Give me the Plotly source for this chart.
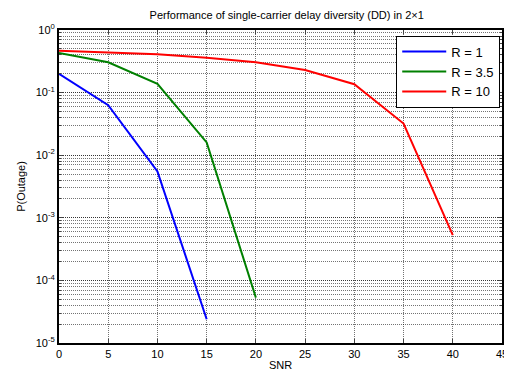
import plotly.graph_objects as go

snr_r1 = [0, 5, 10, 15]
p_r1 = [0.2, 0.063, 0.0055, 2.4e-5]

snr_r35 = [0, 5, 10, 15, 20]
p_r35 = [0.43, 0.305, 0.138, 0.016, 5.3e-5]

snr_r10 = [0, 5, 10, 15, 20, 25, 30, 35, 40]
p_r10 = [0.467, 0.435, 0.41, 0.36, 0.305, 0.23, 0.136, 0.032, 5.3e-4]

series_names = ["R = 1", "R = 3.5", "R = 10"]
series_colors = ["#0000FF", "#008000", "#FF0000"]

y_tickvals = [1e-5, 1e-4, 1e-3, 1e-2, 1e-1, 1]
y_ticktext = ["10<sup>-5</sup>", "10<sup>-4</sup>", "10<sup>-3</sup>",
              "10<sup>-2</sup>", "10<sup>-1</sup>", "10<sup>0</sup>"]
x_tickvals = list(range(0, 50, 5))

fig = go.Figure()
for xs, ys, name, color in zip([snr_r1, snr_r35, snr_r10],
                               [p_r1, p_r35, p_r10],
                               series_names, series_colors):
    fig.add_trace(go.Scatter(x=xs, y=ys, mode="lines", name=name,
                             line=dict(color=color, width=2)))

grid_col = "rgba(0,0,0,0.55)"
grid_dash = "1px,1px"
font_family = "Arial, Liberation Sans, sans-serif"

# the page body has an 8px margin, so the figure is 8px smaller and margins shifted
fig.update_layout(
    width=504, height=366,
    margin=dict(l=51, r=4, t=22, b=31),
    paper_bgcolor="white", plot_bgcolor="white",
    font=dict(family=font_family, size=11, color="black"),
    title=dict(text="Performance of single-carrier delay diversity (DD) in 2×1",
               x=0.553, xanchor="center", y=0.981, yanchor="middle",
               font=dict(size=11, color="black")),
    showlegend=True,
    legend=dict(x=0.996, xanchor="right", y=0.982, yanchor="top",
                bgcolor="white", bordercolor="black", borderwidth=1,
                font=dict(size=13, color="black"), itemwidth=44,
                tracegroupgap=0),
)

fig.update_xaxes(
    range=[0, 45], tickvals=x_tickvals, ticks="inside", ticklen=4,
    showline=True, linecolor="black", linewidth=2, mirror="allticks",
    showgrid=True, gridcolor=grid_col, griddash=grid_dash, gridwidth=1,
    zeroline=False, ticklabeloverflow="allow",
    title=dict(text="SNR", font=dict(size=11), standoff=2),
    tickfont=dict(size=11),
)

fig.update_yaxes(
    type="log", range=[-5, 0], tickvals=y_tickvals, ticktext=y_ticktext,
    ticks="inside", ticklen=4,
    showline=True, linecolor="black", linewidth=2, mirror="allticks",
    showgrid=True, gridcolor=grid_col, griddash=grid_dash, gridwidth=1,
    zeroline=False,
    minor=dict(dtick="D1", ticks="inside", ticklen=2, showgrid=True,
               gridcolor=grid_col, griddash=grid_dash, gridwidth=1),
    title=dict(text="P(Outage)", font=dict(size=11), standoff=8),
    tickfont=dict(size=11),
)

fig.write_html("out.html")
